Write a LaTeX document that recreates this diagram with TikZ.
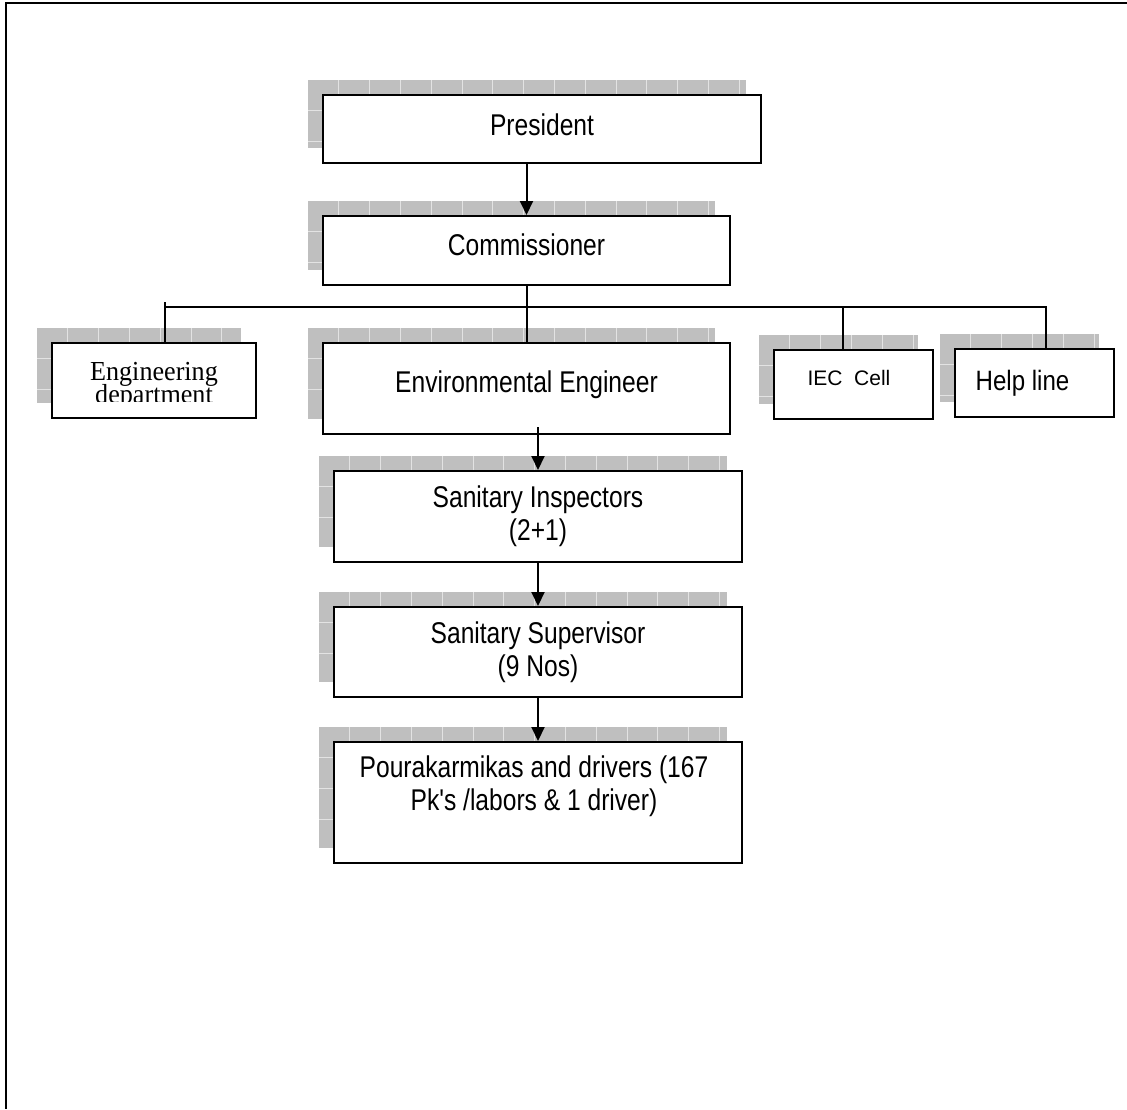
\documentclass[tikz,border=0pt]{standalone}
\usepackage{fontspec}
\newfontfamily\arial{Liberation Sans}
\newfontfamily\tnr{Liberation Serif}
\usepackage{graphicx}
\usetikzlibrary{arrows.meta}

% shadow with grid: box corners x1 y1 x2 y2 (pixel coords), shadow offset -15,-15
\newcommand{\shd}[4]{%
  \begin{scope}
    \clip ({#1-15},{#2-15}) rectangle ({#3-15},{#4-15});
    \fill[shadowfill] ({#1-15},{#2-15}) rectangle ({#3-15},{#4-15});
    \foreach \k in {1,...,15} {
      \draw[shadowline] ({#1-15+30.8*\k},{#2-15}) -- ({#1-15+30.8*\k},{#4-15});
      \draw[shadowline] ({#1-15},{#2-15+30.8*\k}) -- ({#3-15},{#2-15+30.8*\k});
    }
  \end{scope}}
\newcommand{\orgbox}[5]{%
  \shd{#2}{#3}{#4}{#5}
  \node[orgrect, minimum width={(#4-#2)*1pt}, minimum height={(#5-#3)*1pt}] (#1) at ({(#2+#4)/2},{(#3+#5)/2}) {};}
\newcommand{\narrowtext}[2]{\scalebox{#1}[1]{\begin{tabular}[t]{@{}c@{}}#2\end{tabular}}}
\newcommand{\tightstack}[2]{\vtop{\baselineskip=#1\lineskiplimit=-50pt\lineskip=0pt\halign{\hfil##\hfil\cr#2\crcr}}}

\begin{document}
\begin{tikzpicture}[x=1pt,y=-1pt,
  shadowfill/.style={fill=black!25},
  shadowline/.style={draw=black!11, line width=1pt},
  orgrect/.style={draw, line width=2pt, fill=white, inner sep=0pt, rectangle},
  conn/.style={line width=2pt},
  arr/.style={conn, -{Triangle[length=14pt,width=13pt]}},
  lbl/.style={inner sep=0pt, anchor=base},
  big/.style={font=\arial\fontsize{30}{33}\selectfont}]
\useasboundingbox (0,0) rectangle (1127,1109);
% page frame
\draw[line width=2pt] (1127,3) -- (6,3) -- (6,1109);

% boxes
\orgbox{pres}{323}{95}{761}{163}
\orgbox{comm}{323}{216}{730}{285}
\orgbox{eng}{52}{343}{256}{418}
\orgbox{env}{323}{343}{730}{434}
\orgbox{iec}{774}{350}{933}{419}
\orgbox{help}{955}{349}{1114}{417}
\orgbox{si}{334}{471}{742}{562}
\orgbox{ss}{334}{607}{742}{697}
\orgbox{pk}{334}{742}{742}{863}

% labels
\node[lbl, big] (presT) at (542,135) {\narrowtext{0.82}{President}};
\node[lbl, big] (commT) at (526.5,255) {\narrowtext{0.82}{Commissioner}};
\begin{scope}
  \clip (52,343) rectangle (256,401.5);
  \node[lbl, font=\tnr\fontsize{27.5}{23}\selectfont] (engT) at (154,380) {\scalebox{0.95}[1]{\tightstack{23pt}{Engineering\cr department}}};
\end{scope}
\node[lbl, big] (envT) at (526.5,392) {\narrowtext{0.82}{Environmental Engineer}};
\node[lbl, font=\arial\fontsize{21}{25}\selectfont] (iecT) at (849,385) {IEC\ \ Cell};
\node[lbl, font=\arial\fontsize{28}{33}\selectfont] (helpT) at (1022.5,390) {\narrowtext{0.86}{Help line}};
\node[lbl, big] (siT) at (538,507) {\narrowtext{0.82}{Sanitary Inspectors\\(2+1)}};
\node[lbl, big] (ssT) at (538,643) {\narrowtext{0.82}{Sanitary Supervisor\\(9 Nos)}};
\node[lbl, big] (pkT) at (534,777) {\narrowtext{0.82}{Pourakarmikas and drivers (167\\Pk's /labors \& 1 driver)}};

% connectors
\draw[arr] (pres.south -| comm.north) -- (comm.north);
\coordinate (busL) at (165,307);
\coordinate (busI) at (843,307);
\coordinate (busR) at (1046,307);
\draw[conn] (comm.south) -- (comm.south |- busL);
\draw[conn] (busL) -- (busR) -- (busR |- help.north);
\draw[conn] ([yshift=5pt]busL) -- (busL |- eng.north);
\draw[conn] (comm.south |- busL) -- (env.north);
\draw[conn] (busI) -- (busI |- iec.north);
\coordinate (eeOut) at (si.north |- env.south);
\draw[arr] ([yshift=8pt]eeOut) -- (si.north);
\draw[arr] (si.south) -- (ss.north);
\draw[arr] (ss.south) -- (pk.north);
\end{tikzpicture}
\end{document}
